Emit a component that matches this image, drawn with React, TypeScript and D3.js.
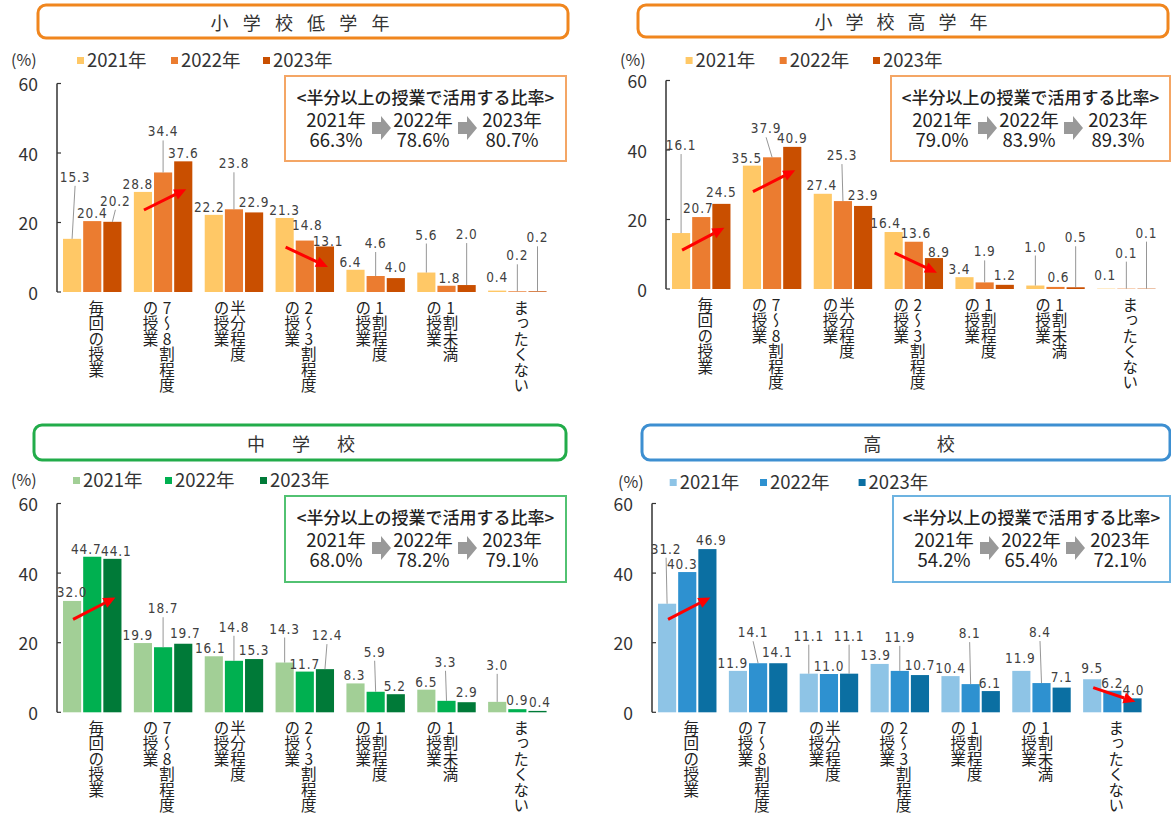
import React from "react";
import * as d3 from "d3";

// ---- data ----
const categories = ["毎回の授業", "7～8割程度の授業", "半分程度の授業", "2～3割程度の授業", "1割程度の授業", "1割未満の授業", "まったくない"];
// vertical label columns, right to left
const categoryColumns = [
  ["毎回の授業"],
  ["7～8割程度", "の授業"],
  ["半分程度", "の授業"],
  ["2～3割程度", "の授業"],
  ["1割程度", "の授業"],
  ["1割未満", "の授業"],
  ["まったくない"],
];
const years = ["2021年", "2022年", "2023年"];
const yTicks = [0, 20, 40, 60];
const rateTitle = "<半分以上の授業で活用する比率>";

const lowElem2021 = [15.3, 28.8, 22.2, 21.3, 6.4, 5.6, 0.4];
const lowElem2022 = [20.4, 34.4, 23.8, 14.8, 4.6, 1.8, 0.2];
const lowElem2023 = [20.2, 37.6, 22.9, 13.1, 4.0, 2.0, 0.2];
const lowElemRates = ["66.3%", "78.6%", "80.7%"];

const highElem2021 = [16.1, 35.5, 27.4, 16.4, 3.4, 1.0, 0.1];
const highElem2022 = [20.7, 37.9, 25.3, 13.6, 1.9, 0.6, 0.1];
const highElem2023 = [24.5, 40.9, 23.9, 8.9, 1.2, 0.5, 0.1];
const highElemRates = ["79.0%", "83.9%", "89.3%"];

const junior2021 = [32.0, 19.9, 16.1, 14.3, 8.3, 6.5, 3.0];
const junior2022 = [44.7, 18.7, 14.8, 11.7, 5.9, 3.3, 0.9];
const junior2023 = [44.1, 19.7, 15.3, 12.4, 5.2, 2.9, 0.4];
const juniorRates = ["68.0%", "78.2%", "79.1%"];

const senior2021 = [31.2, 11.9, 11.1, 13.9, 10.4, 11.9, 9.5];
const senior2022 = [40.3, 14.1, 11.0, 11.9, 8.1, 8.4, 6.2];
const senior2023 = [46.9, 14.1, 11.1, 10.7, 6.1, 7.1, 4.0];
const seniorRates = ["54.2%", "65.4%", "72.1%"];

// trend arrows: [category index, from value, to value]
const lowElemArrows = [[1, 23.6, 29.6], [3, 12.9, 7.2]];
const highElemArrows = [[0, 11.2, 17.6], [1, 28, 34.2], [3, 10.4, 4.7]];
const juniorArrows = [[0, 26.7, 33.0]];
const seniorArrows = [[0, 26.7, 33.0], [6, 7.1, 3.0]];

// ---- label placement (dx, lift in px) per category, per year ----
const lowElemLabelPos = [
  [[3, 54], [0, 0], [3, 13]],
  [[-5, 0], [0, 33], [0, 0]],
  [[-4.5, 0], [0, 38], [0, 2]],
  [[0, 0], [2.6, 8], [3, -3]],
  [[-5, 0], [0, 25], [0, 3]],
  [[0, 30], [3, 0], [0, 43]],
  [[0, 6], [0, 28], [0, 46]],
];
const highElemLabelPos = [
  [[0, 80], [-3, 1], [0, 4]],
  [[-5, 0], [-6, 21], [0, 1]],
  [[-1, 1], [-1, 38], [0, 3]],
  [[-8, 1], [2, 1], [5, -2]],
  [[-5, 0], [0, 23], [0, 2]],
  [[0, 31], [3, 2], [0, 42]],
  [[-1, 6], [0, 28], [0, 48]],
];
const juniorLabelPos = [
  [[0, 1], [-6, 0], [4, 0]],
  [[-5, 0], [0, 31], [2, 3]],
  [[-3.5, 0], [0, 26], [0, 1]],
  [[0, 26], [0, 0], [2, 26]],
  [[-1, 0], [-1, 32], [-1, 0]],
  [[0, 0], [-1, 31], [0, 2]],
  [[0, 29], [0, 1], [2.5, 1]],
];
const seniorLabelPos = [
  [[-1, 47], [-5, 0], [4, 1]],
  [[-5, 0], [-5, 23], [-1, 3.5]],
  [[0, 30], [0, 0], [0, 30]],
  [[-4, 1], [0, 26], [0, 2]],
  [[0, 0], [-1, 43], [-1, 0]],
  [[-1, 5], [-1.5, 43], [0, 3]],
  [[0, 3], [0, 0], [1, 0]],
];

const FONT_JP = "'Noto Sans CJK JP', 'Noto Sans', sans-serif";
const FONT_NUM = "'DejaVu Sans Condensed', 'Liberation Sans Narrow', sans-serif";

type PanelCfg = {
  title: string;
  titlePitch: number;
  titleBox: [number, number, number, number];
  titleCx: number;
  frame: string;
  infoFrame: string;
  colors: string[];
  series: number[][];
  rates: string[];
  arrows: number[][];
  labelPos: number[][][];
  axisX: number;
  plotRight: number;
  y0: number;
  y60: number;
  legendY: number;
  pctX: number;
  legendX: number[];
  infoBox: [number, number, number, number];
};

const panels: PanelCfg[] = [
  {
    title: "小学校低学年", titlePitch: 32.2, titleBox: [38, 5, 530, 33], titleCx: 300,
    frame: "#F0861E", infoFrame: "#F4A665",
    colors: ["#FFC866", "#EB7C30", "#C94F00"],
    series: [lowElem2021, lowElem2022, lowElem2023], rates: lowElemRates,
    arrows: lowElemArrows, labelPos: lowElemLabelPos,
    axisX: 57, plotRight: 552.6, y0: 292, y60: 83.5,
    legendY: 60, pctX: 11, legendX: [77, 171, 263],
    infoBox: [285, 76, 281, 85],
  },
  {
    title: "小学校高学年", titlePitch: 31, titleBox: [638, 5, 530, 32], titleCx: 901,
    frame: "#F0861E", infoFrame: "#F4A665",
    colors: ["#FFC866", "#EB7C30", "#C94F00"],
    series: [highElem2021, highElem2022, highElem2023], rates: highElemRates,
    arrows: highElemArrows, labelPos: highElemLabelPos,
    axisX: 666, plotRight: 1161.6, y0: 289, y60: 80.5,
    legendY: 60, pctX: 620, legendX: [685.6, 779.7, 873],
    infoBox: [891, 76, 279, 85],
  },
  {
    title: "中学校", titlePitch: 45, titleBox: [34, 425, 532, 35], titleCx: 301,
    frame: "#22AC4A", infoFrame: "#52C272",
    colors: ["#A2CF96", "#00B050", "#007A38"],
    series: [junior2021, junior2022, junior2023], rates: juniorRates,
    arrows: juniorArrows, labelPos: juniorLabelPos,
    axisX: 57, plotRight: 552.6, y0: 712.3, y60: 503.5,
    legendY: 480, pctX: 11, legendX: [73, 165, 260],
    infoBox: [285, 496, 281, 86],
  },
  {
    title: "高校", titlePitch: 73.4, titleBox: [642, 425, 528, 35], titleCx: 909,
    frame: "#3D8FD1", infoFrame: "#6DB3E1",
    colors: ["#8EC4E6", "#2E91D0", "#0B6FA2"],
    series: [senior2021, senior2022, senior2023], rates: seniorRates,
    arrows: seniorArrows, labelPos: seniorLabelPos,
    axisX: 652, plotRight: 1147.6, y0: 712.3, y60: 503.5,
    legendY: 482, pctX: 618, legendX: [669.7, 760, 858.6],
    infoBox: [893, 496, 277, 86],
  },
];

const Panel = ({ p }: { p: PanelCfg }) => {
  const x = d3.scaleBand<string>().domain(categories).range([p.axisX, p.plotRight])
    .paddingInner(0.175).paddingOuter(0.085);
  const xs = d3.scaleBand<string>().domain(years).range([0, x.bandwidth()]).paddingInner(0.1);
  const y = d3.scaleLinear().domain([0, 60]).range([p.y0, p.y60]);
  const bw = xs.bandwidth();
  const barCx = (ci: number, si: number) => (x(categories[ci]) as number) + (xs(years[si]) as number) + bw / 2;

  const [bx, by, bwid, bht] = p.infoBox;
  const colX = [bx + 51, bx + 138, bx + 227];
  const chars = p.title.split("");

  return (
    <g>
      {/* title box */}
      <rect x={p.titleBox[0]} y={p.titleBox[1]} width={p.titleBox[2]} height={p.titleBox[3]}
        rx={8} fill="#fff" stroke={p.frame} strokeWidth={3} />
      {chars.map((c, i) => (
        <text key={i} x={p.titleCx + (i - (chars.length - 1) / 2) * p.titlePitch}
          y={p.titleBox[1] + p.titleBox[3] / 2} dominantBaseline="central" textAnchor="middle"
          fontFamily={FONT_JP} fontSize={18} fill="#333">{c}</text>
      ))}

      {/* legend */}
      <text x={p.pctX} y={p.legendY + 6} fontFamily={FONT_JP} fontSize={16} fill="#333">(%)</text>
      {years.map((yr, i) => (
        <g key={yr}>
          <rect x={p.legendX[i]} y={p.legendY - 3} width={7} height={7} fill={p.colors[i]} />
          <text x={p.legendX[i] + 10} y={p.legendY + 7} fontFamily={FONT_JP} fontSize={18.5} fill="#333">{yr}</text>
        </g>
      ))}

      {/* y axis */}
      <line x1={p.axisX} x2={p.axisX} y1={y(60)} y2={y(0)} stroke="#333" strokeWidth={1.5} />
      {yTicks.map((t) => (
        <g key={t}>
          <line x1={p.axisX} x2={p.axisX + 4} y1={y(t)} y2={y(t)} stroke="#333" strokeWidth={1.2} />
          <text x={p.axisX - 19} y={y(t)} textAnchor="end" dominantBaseline="central"
            fontFamily={FONT_JP} fontSize={17.5} fill="#333">{t}</text>
        </g>
      ))}

      {/* bars */}
      {p.series.map((vals, si) =>
        vals.map((v, ci) => (
          <rect key={`b${si}-${ci}`} x={(x(categories[ci]) as number) + (xs(years[si]) as number)}
            y={y(v)} width={bw} height={y(0) - y(v)} fill={p.colors[si]} />
        ))
      )}

      {/* value labels with leaders */}
      {p.series.map((vals, si) =>
        vals.map((v, ci) => {
          const [dx, lift] = p.labelPos[ci][si];
          const cx = barCx(ci, si);
          const top = y(v);
          const base = top - 3 - lift;
          return (
            <g key={`l${si}-${ci}`}>
              {lift >= 12 && (
                <line x1={cx + dx} y1={base + 4} x2={cx} y2={top} stroke="#8a8a8a" strokeWidth={0.9} />
              )}
              <text x={cx + dx} y={base} textAnchor="middle" fontFamily={FONT_NUM} fontSize={13.5}
                letterSpacing={0.9} fill="#404040">{v.toFixed(1)}</text>
            </g>
          );
        })
      )}

      {/* red trend arrows */}
      {p.arrows.map(([ci, a, b], i) => {
        const x1 = barCx(ci, 0) + 1;
        const x2 = barCx(ci, 2) + 3;
        const y1 = y(a);
        const y2 = y(b);
        const ang = Math.atan2(y2 - y1, x2 - x1);
        const hl = 12, hw = 5.5;
        const bxp = x2 - hl * Math.cos(ang);
        const byp = y2 - hl * Math.sin(ang);
        const nx = -Math.sin(ang) * hw, ny = Math.cos(ang) * hw;
        return (
          <g key={`a${i}`}>
            <line x1={x1} y1={y1} x2={bxp} y2={byp} stroke="#FF0000" strokeWidth={3} />
            <polygon points={`${x2},${y2} ${bxp + nx},${byp + ny} ${bxp - nx},${byp - ny}`} fill="#FF0000" />
          </g>
        );
      })}

      {/* category labels (vertical) */}
      {categoryColumns.map((cols, ci) => {
        const cx = (x(categories[ci]) as number) + x.bandwidth() / 2 + 4;
        return cols.map((col, k) => (
          <text key={`c${ci}-${k}`} x={cx - k * 16.5} y={p.y0 + 8}
            style={{ writingMode: "vertical-rl", textOrientation: "upright" } as React.CSSProperties}
            fontFamily={FONT_JP} fontSize={15.5} fill="#222">{col}</text>
        ));
      })}

      {/* info box */}
      <rect x={bx} y={by} width={bwid} height={bht} fill="#fff" stroke={p.infoFrame} strokeWidth={2} />
      <text x={bx + bwid / 2} y={by + 20} textAnchor="middle" dominantBaseline="central"
        fontFamily={FONT_JP} fontSize={17} fontWeight={500} fill="#222">{rateTitle}</text>
      {years.map((yr, i) => (
        <g key={`r${i}`}>
          <text x={colX[i]} y={by + 42.5} textAnchor="middle" dominantBaseline="central"
            fontFamily={FONT_JP} fontSize={18.5} fill="#222">{yr}</text>
          <text x={colX[i]} y={by + 63} textAnchor="middle" dominantBaseline="central"
            fontFamily={FONT_JP} fontSize={18.5} fill="#222">{p.rates[i]}</text>
        </g>
      ))}
      {[bx + 87, bx + 173].map((ax, i) => {
        const cy = by + 52;
        return (
          <polygon key={`g${i}`} fill="#999"
            points={`${ax},${cy - 6} ${ax + 9},${cy - 6} ${ax + 9},${cy - 12} ${ax + 19},${cy} ${ax + 9},${cy + 12} ${ax + 9},${cy + 6} ${ax},${cy + 6}`} />
        );
      })}
    </g>
  );
};

export default function App() {
  return (
    <svg width={1171} height={818} style={{ position: "absolute", left: 0, top: 0, background: "#fff" }}>
      <rect width={1171} height={818} fill="#fff" />
      {panels.map((p, i) => <Panel key={i} p={p} />)}
    </svg>
  );
}
